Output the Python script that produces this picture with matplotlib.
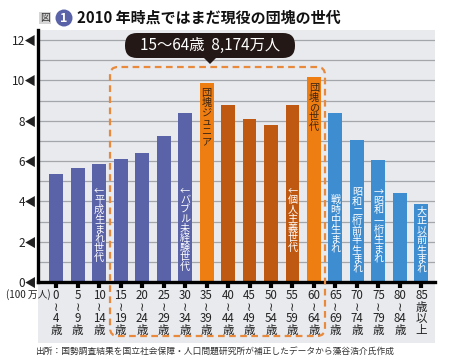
import numpy as np
import matplotlib.pyplot as plt
from matplotlib.patches import FancyBboxPatch, Polygon, Rectangle, Circle

# ---------------------------------------------------------------
# フォント設定
# ---------------------------------------------------------------
plt.rcParams['font.family'] = ['Noto Sans CJK JP', 'DejaVu Sans']
plt.rcParams['font.size'] = 8

# ---------------------------------------------------------------
# データ (単位: 100万人)
# ---------------------------------------------------------------
age_groups = ['0\n≀\n4\n歳', '5\n≀\n9\n歳', '10\n≀\n14\n歳', '15\n≀\n19\n歳',
              '20\n≀\n24\n歳', '25\n≀\n29\n歳', '30\n≀\n34\n歳', '35\n≀\n39\n歳',
              '40\n≀\n44\n歳', '45\n≀\n49\n歳', '50\n≀\n54\n歳', '55\n≀\n59\n歳',
              '60\n≀\n64\n歳', '65\n≀\n69\n歳', '70\n≀\n74\n歳', '75\n≀\n79\n歳',
              '80\n≀\n84\n歳', '85\n歳\n以\n上']
population = [5.35, 5.63, 5.84, 6.09, 6.39, 7.23, 8.38, 9.87, 8.8,
              8.1, 7.77, 8.8, 10.16, 8.4, 7.03, 6.04, 4.39, 3.86]
group = ['young'] * 7 + ['peak', 'mid', 'mid', 'mid', 'mid', 'peak'] + ['old'] * 5

# 棒の中の縦書きラベル: (棒の番号, 文字列, 上端の値, 色)
bar_notes = [
    (2, '←平成生まれ世代', 4.8, 'white'),
    (6, '←バブル未経験世代', 4.8, 'white'),
    (7, '団塊ジュニア', 9.6, '#3a2412'),
    (11, '←個人主義世代', 4.8, 'white'),
    (12, '団塊の世代', 9.85, '#3a2412'),
    (13, '戦時中生まれ', 4.3, 'white'),
    (14, '昭和二桁前半生まれ', 4.7, 'white'),
    (15, '→昭和一桁生まれ', 4.75, 'white'),
    (17, '大正以前生まれ', 3.75, 'white'),
]

yticks = [0, 2, 4, 6, 8, 10, 12]

palette = {'young': '#5A62A8', 'peak': '#EF7E12', 'mid': '#BF5810', 'old': '#3E8DD0'}

W, H = 450, 364


def px(x, y):
    """画像のピクセル座標(左上原点)をインチ座標へ"""
    return x / 100, (H - y) / 100


# ---------------------------------------------------------------
# 描画
# ---------------------------------------------------------------
fig = plt.figure(figsize=(W / 100, H / 100), dpi=100)
fig.patch.set_facecolor('white')
inch = fig.dpi_scale_trans

# 背景パネル
x0, y0 = px(38, 343)
x1, y1 = px(435, 30)
fig.patches.append(Rectangle((x0, y0), x1 - x0, y1 - y0, transform=inch,
                             facecolor='#E8EAEE', edgecolor='none', zorder=-5))

ax = fig.add_axes([38 / W, (H - 282) / H, (435 - 38) / W, (282 - 30) / H])
ax.set_facecolor('none')

x = np.arange(len(population))
ax.bar(x, population, width=0.65, color=[palette[g] for g in group], zorder=3)

ax.set_xlim(-0.84, 17.63)
ax.set_ylim(0, 12.5)
for v in np.arange(1, 13):
    ax.axhline(v, color='#A3A7AC', lw=0.9, zorder=1)

ax.set_yticks(yticks)
ax.set_yticklabels([f'{v}◀' for v in yticks], fontsize=8.5, color='#222222')
ax.tick_params(axis='y', length=0, pad=1)
ax.set_xticks(x)
ax.set_xticklabels(age_groups, fontsize=8.3, linespacing=0.86, color='#222222')
ax.tick_params(axis='x', length=4, width=3, color='black', pad=1)

for s in ['top', 'right']:
    ax.spines[s].set_visible(False)
ax.spines['left'].set_linewidth(2.4)
ax.spines['bottom'].set_linewidth(2.4)
ax.spines['left'].set_zorder(5)
ax.spines['bottom'].set_zorder(5)

for i, label, top, col in bar_notes:
    ax.text(i, top, '\n'.join(label), ha='center', va='top', fontsize=7.3,
            color=col, linespacing=0.95, zorder=4)

fig.text(6 / W, 1 - 295 / H, '(100 万人)', fontsize=7, color='#222222',
         ha='left', va='center')

# 15〜64歳の点線枠
bx0, by0 = px(110, 336)
bx1, by1 = px(325, 67)
fig.patches.append(FancyBboxPatch((bx0, by0), bx1 - bx0, by1 - by0,
                                  boxstyle='round,pad=0,rounding_size=0.08',
                                  transform=inch, facecolor='none',
                                  edgecolor='#E8893C', lw=1.6,
                                  linestyle=(0, (3, 2)), zorder=6))

# 吹き出し
cx0, cy0 = px(125, 58)
cx1, cy1 = px(295, 33)
fig.patches.append(FancyBboxPatch((cx0, cy0), cx1 - cx0, cy1 - cy0,
                                  boxstyle='round,pad=0,rounding_size=0.12',
                                  transform=inch, facecolor='#231815',
                                  edgecolor='none', zorder=7))
fig.patches.append(Polygon([px(203, 57), px(217, 57), px(210, 64)],
                           transform=inch, facecolor='#231815',
                           edgecolor='none', zorder=7))
fig.text(210 / W, 1 - 45.5 / H, '15〜64歳  8,174万人', color='white',
         fontsize=11, ha='center', va='center', zorder=8)

# タイトル
fig.text(45 / W, 1 - 18 / H, '図', fontsize=7, color='#333333',
         ha='center', va='center',
         bbox=dict(boxstyle='square,pad=0.12', facecolor='#D5D5D5',
                   edgecolor='none'))
fig.patches.append(Circle(px(64, 18), 0.085, transform=inch,
                          facecolor='#5A62A8', edgecolor='none', zorder=5))
fig.text(64 / W, 1 - 18 / H, '1', fontsize=9, color='white', weight='bold',
         ha='center', va='center', zorder=6)
fig.text(77 / W, 1 - 18 / H, '2010 年時点ではまだ現役の団塊の世代',
         fontsize=10.8, weight='bold', color='#111111', ha='left',
         va='center')

# 出所
fig.text(35 / W, 1 - 352 / H,
         '出所：国勢調査結果を国立社会保障・人口問題研究所が補正したデータから藻谷浩介氏作成',
         fontsize=6.3, color='#333333', ha='left', va='center')

fig.savefig('out.png', dpi=100)
